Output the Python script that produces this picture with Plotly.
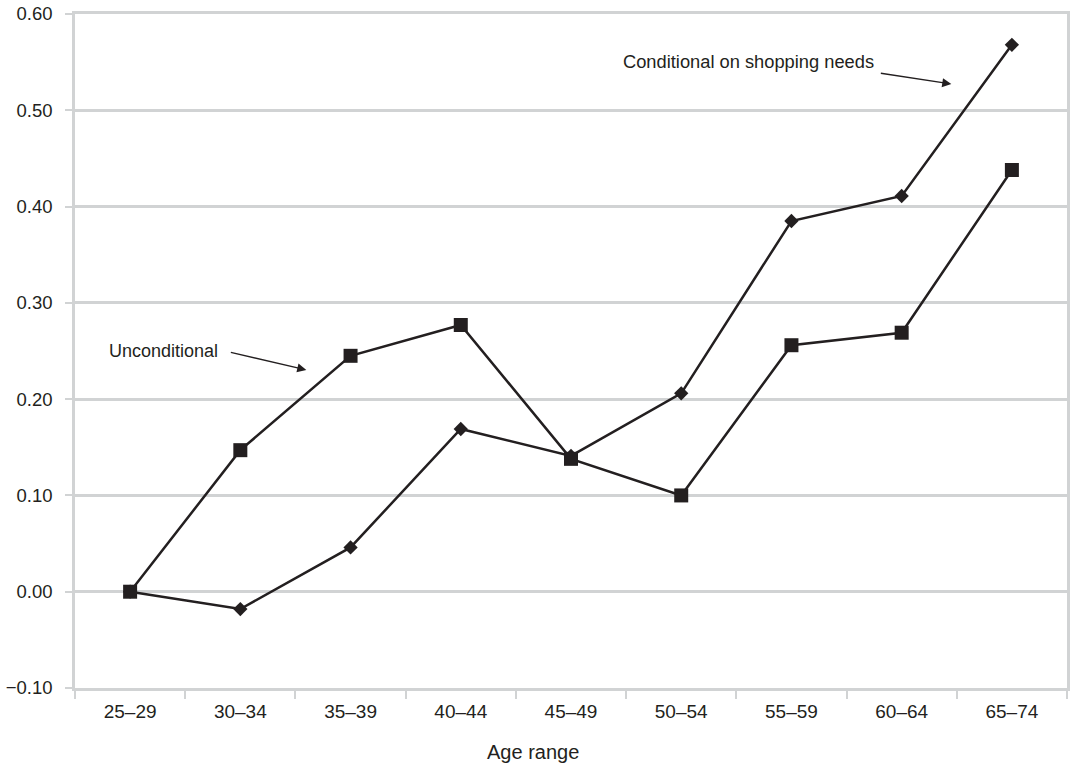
import plotly.graph_objects as go

age_ranges = ["25–29", "30–34", "35–39", "40–44", "45–49", "50–54", "55–59", "60–64", "65–74"]
conditional = [0.000, -0.018, 0.046, 0.169, 0.141, 0.206, 0.385, 0.411, 0.568]
unconditional = [0.000, 0.147, 0.245, 0.277, 0.138, 0.100, 0.256, 0.269, 0.438]
y_ticks = [-0.10, 0.00, 0.10, 0.20, 0.30, 0.40, 0.50, 0.60]

ink = "#231f20"
grid = "#d1d3d4"
font = "Liberation Sans, Arial, Helvetica, sans-serif"

fig = go.Figure()
fig.add_trace(go.Scatter(
    x=age_ranges, y=conditional, mode="lines+markers",
    line=dict(color=ink, width=2.5),
    marker=dict(symbol="diamond", size=11, color=ink),
    showlegend=False, name="Conditional on shopping needs"))
fig.add_trace(go.Scatter(
    x=age_ranges, y=unconditional, mode="lines+markers",
    line=dict(color=ink, width=2.5),
    marker=dict(symbol="square", size=14, color=ink),
    showlegend=False, name="Unconditional"))

fig.update_layout(
    width=1071, height=766,
    margin=dict(l=75, r=1, t=14, b=78),
    paper_bgcolor="white", plot_bgcolor="white",
    font=dict(family=font, size=18.5, color=ink),
    xaxis=dict(
        type="category", tickson="boundaries", ticks="outside", ticklen=8,
        tickwidth=2, tickcolor=grid, showgrid=False,
        showline=True, linecolor=grid, linewidth=2.5, mirror=True,
        tickfont=dict(size=19, color=ink), ticklabelstandoff=4,
        range=[-0.5, 8.5],
    ),
    yaxis=dict(
        range=[-0.10, 0.60], tickvals=y_ticks, tickformat=".2f",
        ticks="outside", ticklen=7, tickwidth=2, tickcolor=grid,
        showgrid=True, gridcolor=grid, gridwidth=2.5, zeroline=False,
        showline=True, linecolor=grid, linewidth=2.5, mirror=True,
        tickfont=dict(size=18.5, color=ink), ticklabelstandoff=9,
    ),
)

annotations = [
    dict(text="Age range", xref="paper", yref="paper", x=0.4613, y=-0.095,
         xanchor="center", yanchor="middle", showarrow=False,
         font=dict(size=20, color=ink)),
    dict(text="Unconditional", xref="paper", yref="paper", x=0.1457, y=0.5,
         xanchor="right", yanchor="middle", showarrow=False,
         font=dict(size=18, color=ink)),
    dict(text="Conditional on shopping needs", xref="paper", yref="paper",
         x=0.807, y=0.9288, xanchor="right", yanchor="middle", showarrow=False,
         font=dict(size=18.3, color=ink)),
    dict(text="", xref="paper", yref="paper", x=0.2332, y=0.4718,
         ax=-77, ay=-18, showarrow=True, arrowhead=2, arrowsize=1.4,
         arrowwidth=1.3, arrowcolor=ink),
    dict(text="", xref="paper", yref="paper", x=0.8834, y=0.8961,
         ax=-72, ay=-11, showarrow=True, arrowhead=2, arrowsize=1.4,
         arrowwidth=1.3, arrowcolor=ink),
]
fig.update_layout(annotations=annotations)

fig.write_html(
    "out.html",
    config={"displayModeBar": False},
    post_script="document.body.style.margin='0';document.body.style.overflow='hidden';",
)
